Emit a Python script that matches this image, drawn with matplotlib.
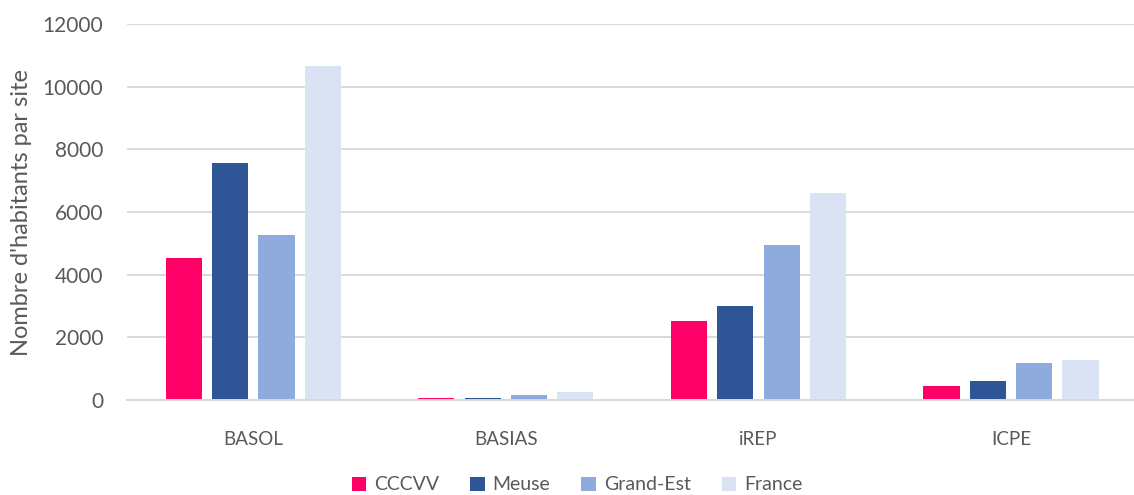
# -*- coding: utf-8 -*-
# --- habitants par site, par type de site -----------------------------------
import matplotlib.pyplot as plt
import numpy as np

lCat = ['BASOL', 'BASIAS', 'iREP', 'ICPE']
lSer = ['CCCVV', 'Meuse', 'Grand-Est', 'France']
valCCCVV = [4545, 70, 2515, 435]
valMeuse = [7555, 55, 3000, 595]
valGrandEst = [5255, 150, 4955, 1190]
valFrance = [10660, 245, 6595, 1265]
lYTicks = [0, 2000, 4000, 6000, 8000, 10000, 12000]

lCol = ['#FF0066', '#2F5597', '#8FAADC', '#DAE3F3']
colTxt, colGrid = '#595959', '#D9D9D9'

# --- Functions --------------------------------------------------------------
def decorateAx(cAx):
    cAx.set_ylim(0, 12000)
    cAx.set_xlim(-0.5, 3.487)
    cAx.set_yticks(lYTicks)
    cAx.set_yticklabels([str(v) for v in lYTicks])
    cAx.set_xticks(range(len(lCat)))
    cAx.set_xticklabels(lCat)
    cAx.tick_params(axis = 'both', length = 0, colors = colTxt)
    cAx.tick_params(axis = 'x', pad = 22, labelsize = 13.5)
    cAx.tick_params(axis = 'y', pad = 17, labelsize = 15)
    cAx.yaxis.grid(True, color = colGrid, lw = 1.4)
    cAx.set_axisbelow(True)
    for sSp in ['top', 'right', 'left']:
        cAx.spines[sSp].set_visible(False)
    cAx.spines['bottom'].set_color(colGrid)
    cAx.spines['bottom'].set_linewidth(1.4)
    cAx.set_ylabel("Nombre d'habitants par site", color = colTxt,
                   fontsize = 17, labelpad = 8)

plt.rcParams['font.family'] = ['Lato', 'DejaVu Sans']
cFig = plt.figure(figsize = (11.34, 4.95), dpi = 100)
cAx = cFig.add_axes([127/1134, 1 - 400/495, 1 - 127/1134, 376/495])

lVal = [valCCCVV, valMeuse, valGrandEst, valFrance]
xPos = np.arange(len(lCat))
wdBar, stepBar = 0.143, 0.1835
for k, (sSer, cVal) in enumerate(zip(lSer, lVal)):
    cAx.bar(xPos + (k - 1.5)*stepBar, cVal, width = wdBar, color = lCol[k],
            label = sSer, zorder = 2)

decorateAx(cAx)
cFig.legend(loc = 'center', bbox_to_anchor = (577/1134, 1 - 485/495),
            ncol = 4, frameon = False, fontsize = 14, handlelength = 0.75,
            handleheight = 0.75, handletextpad = 0.4, columnspacing = 1.6,
            labelcolor = colTxt)

plt.savefig('out.png')
plt.close()
